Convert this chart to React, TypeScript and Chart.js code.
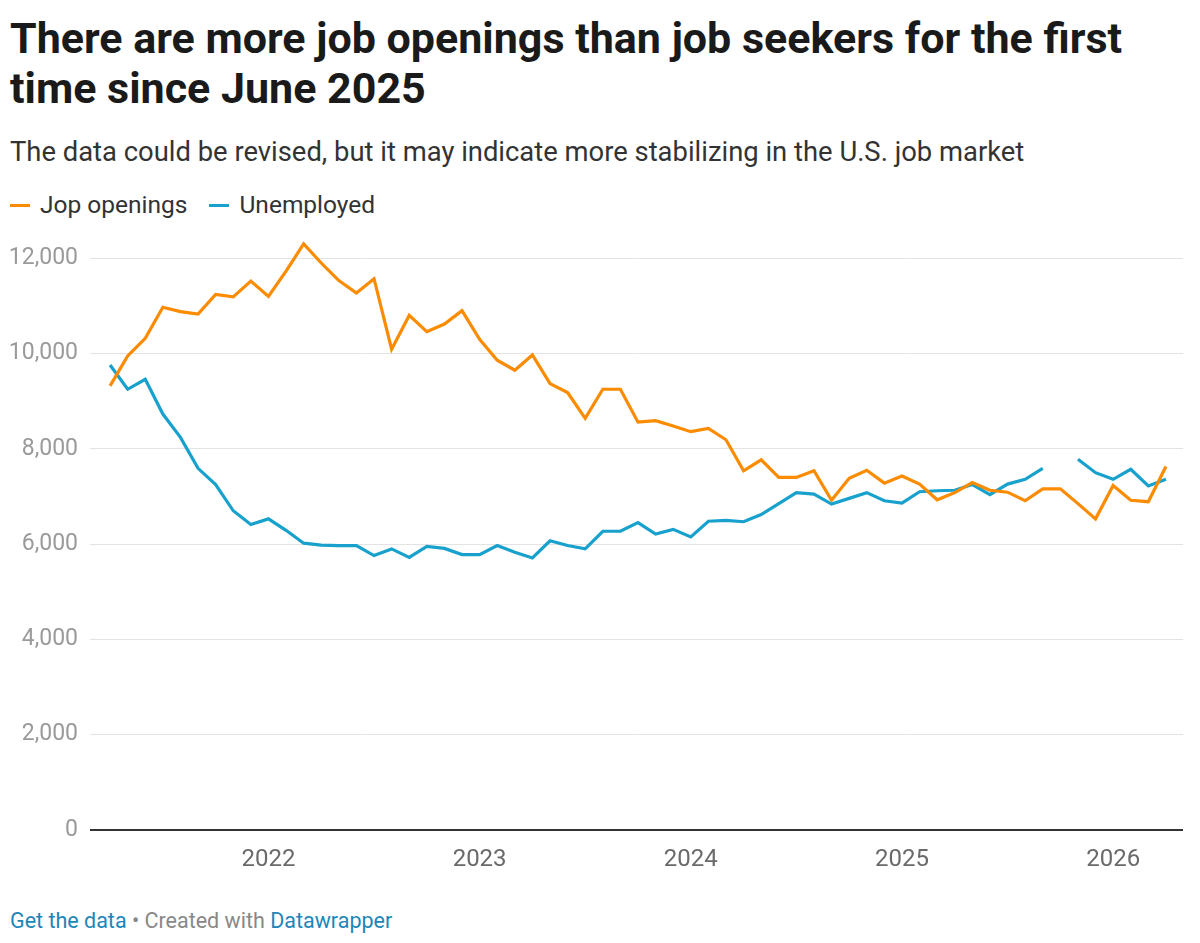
import React, { useEffect, useRef } from "react";
import { Chart, registerables } from "chart.js";

Chart.register(...registerables);

const months = [
  "2021-04", "2021-05", "2021-06", "2021-07", "2021-08", "2021-09", "2021-10", "2021-11", "2021-12",
  "2022-01", "2022-02", "2022-03", "2022-04", "2022-05", "2022-06", "2022-07", "2022-08", "2022-09", "2022-10", "2022-11", "2022-12",
  "2023-01", "2023-02", "2023-03", "2023-04", "2023-05", "2023-06", "2023-07", "2023-08", "2023-09", "2023-10", "2023-11", "2023-12",
  "2024-01", "2024-02", "2024-03", "2024-04", "2024-05", "2024-06", "2024-07", "2024-08", "2024-09", "2024-10", "2024-11", "2024-12",
  "2025-01", "2025-02", "2025-03", "2025-04", "2025-05", "2025-06", "2025-07", "2025-08", "2025-09", "2025-10", "2025-11", "2025-12",
  "2026-01", "2026-02", "2026-03", "2026-04",
];

const jobOpenings = [
  9320, 9950, 10320, 10970, 10880, 10830, 11240, 11190, 11520,
  11200, 11730, 12300, 11900, 11530, 11270, 11570, 10090, 10800, 10460, 10620, 10900,
  10300, 9860, 9650, 9970, 9370, 9180, 8640, 9250, 9250, 8560, 8590, 8480,
  8360, 8430, 8190, 7540, 7770, 7400, 7400, 7540, 6920, 7380, 7550, 7280,
  7430, 7260, 6930, 7080, 7290, 7130, 7090, 6910, 7160, 7160, 6850, 6530,
  7230, 6920, 6890, 7630,
];

const unemployed: (number | null)[] = [
  9760, 9250, 9460, 8730, 8240, 7590, 7250, 6700, 6410,
  6530, 6290, 6020, 5980, 5970, 5970, 5760, 5900, 5720, 5950, 5910, 5780,
  5780, 5970, 5830, 5710, 6070, 5970, 5900, 6270, 6270, 6450, 6210, 6310,
  6150, 6480, 6500, 6470, 6620, 6850, 7080, 7050, 6840, 6960, 7080, 6910,
  6860, 7100, 7120, 7130, 7250, 7040, 7260, 7360, 7590, null, 7780, 7500,
  7360, 7570, 7220, 7360,
];

const yearLabels = ["2022", "2023", "2024", "2025", "2026"];
const yTickValues = [0, 2000, 4000, 6000, 8000, 10000, 12000];

const ORANGE = "#fb8b00";
const BLUE = "#18a1cd";
const FONT = "Roboto, 'Noto Sans', sans-serif";

export default function App() {
  const ref = useRef<HTMLCanvasElement>(null);

  useEffect(() => {
    const yearIdx = yearLabels.map((y) => months.indexOf(y + "-01"));
    const chart = new Chart(ref.current!, {
      type: "line",
      data: {
        datasets: [
          {
            label: "Jop openings",
            data: jobOpenings.map((v, i) => ({ x: i, y: v })),
            borderColor: ORANGE,
            backgroundColor: ORANGE,
            borderWidth: 3.2,
            pointRadius: 0,
            tension: 0,
          },
          {
            label: "Unemployed",
            data: unemployed.map((v, i) => ({ x: i, y: v })),
            borderColor: BLUE,
            backgroundColor: BLUE,
            borderWidth: 3.2,
            pointRadius: 0,
            tension: 0,
          },
        ],
      },
      options: {
        animation: false,
        responsive: false,
        maintainAspectRatio: false,
        layout: { padding: { top: 12, right: 17, left: 0, bottom: 0 } },
        plugins: { legend: { display: false }, tooltip: { enabled: false } },
        scales: {
          x: {
            type: "linear",
            min: -1.14,
            max: 60.97,
            grid: { display: false },
            border: { display: false },
            afterBuildTicks: (s: any) => {
              s.ticks = yearIdx.map((v) => ({ value: v }));
            },
            afterFit: (s: any) => {
              s.height = 50;
            },
            ticks: {
              autoSkip: false,
              maxRotation: 0,
              padding: 8,
              color: "#6a6a6a",
              font: { family: FONT, size: 24 },
              callback: (v: any) => {
                const k = yearIdx.indexOf(Number(v));
                return k >= 0 ? yearLabels[k] : "";
              },
            },
          },
          y: {
            min: 0,
            max: 12450,
            afterBuildTicks: (s: any) => {
              s.ticks = yTickValues.map((v) => ({ value: v }));
            },
            afterFit: (s: any) => {
              s.width = 90;
            },
            border: { display: false },
            grid: {
              drawTicks: false,
              color: (ctx: any) => (ctx.tick && ctx.tick.value === 0 ? "#333333" : "#e3e3e3"),
              lineWidth: (ctx: any) => (ctx.tick && ctx.tick.value === 0 ? 2 : 1),
            },
            ticks: {
              padding: 12,
              color: "#9a9a9a",
              font: { family: FONT, size: 23 },
              callback: (v: any) => Number(v).toLocaleString("en-US"),
            },
          },
        },
      },
    });
    return () => chart.destroy();
  }, []);

  const legendItem = (color: string, label: string, ml: number) => (
    <span style={{ display: "inline-flex", alignItems: "center", marginLeft: ml }}>
      <span style={{ display: "inline-block", width: 20, height: 3, background: color, marginRight: 10 }} />
      <span>{label}</span>
    </span>
  );

  return (
    <div
      style={{
        position: "absolute",
        left: 0,
        top: 0,
        width: 1200,
        height: 943,
        background: "#fff",
        fontFamily: FONT,
        overflow: "hidden",
      }}
    >
      <div
        style={{
          position: "absolute",
          left: 10,
          top: 13,
          width: 1150,
          fontSize: 43,
          lineHeight: "50px",
          fontWeight: 700,
          color: "#1a1a1a",
        }}
      >
        There are more job openings than job seekers for the first time since June 2025
      </div>
      <div
        style={{
          position: "absolute",
          left: 10,
          top: 136,
          fontSize: 27.4,
          lineHeight: "32px",
          color: "#333",
          whiteSpace: "nowrap",
        }}
      >
        The data could be revised, but it may indicate more stabilizing in the U.S. job market
      </div>
      <div
        style={{
          position: "absolute",
          left: 10,
          top: 190,
          fontSize: 24.5,
          lineHeight: "30px",
          color: "#333",
          whiteSpace: "nowrap",
          display: "flex",
        }}
      >
        {legendItem(ORANGE, "Jop openings", 0)}
        {legendItem(BLUE, "Unemployed", 22)}
      </div>
      <canvas
        ref={ref}
        width={1200}
        height={669}
        style={{ position: "absolute", left: 0, top: 211, width: 1200, height: 669, display: "block" }}
      />
      <div
        style={{
          position: "absolute",
          left: 10,
          top: 907,
          fontSize: 21.5,
          lineHeight: "28px",
          color: "#888",
          whiteSpace: "nowrap",
        }}
      >
        <span style={{ color: "#1d86b8" }}>Get the data</span>
        <span> • Created with </span>
        <span style={{ color: "#1d86b8" }}>Datawrapper</span>
      </div>
    </div>
  );
}
